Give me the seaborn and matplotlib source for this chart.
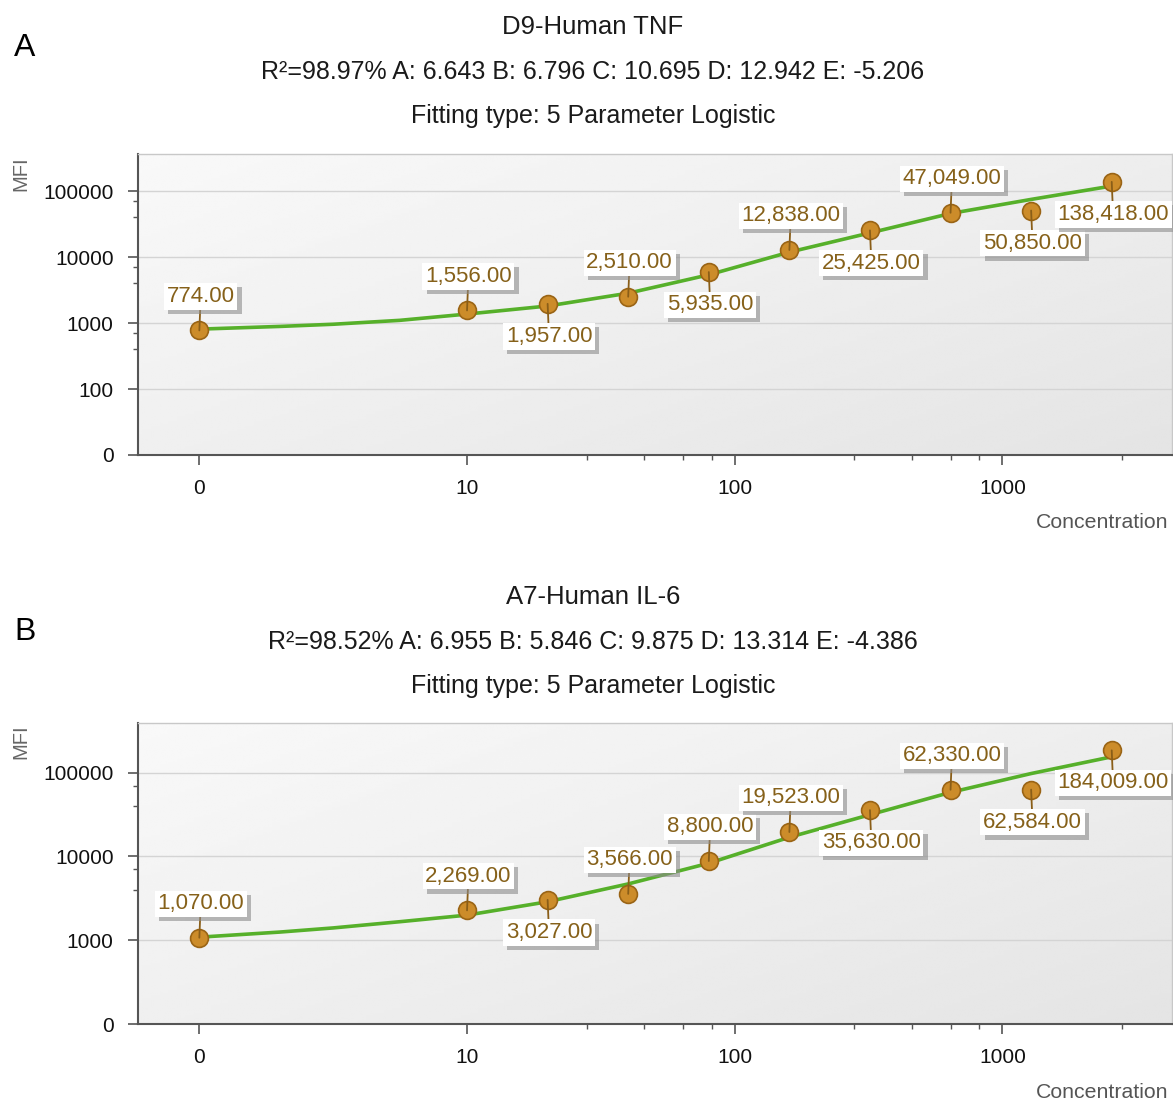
import matplotlib.pyplot as plt
import matplotlib.patheffects as pe
import matplotlib.ticker as mticker
import numpy as np
import seaborn as sns

# standards: the blank ("0") sits one decade below 10 on the log axis
conc = [1, 10, 20, 40, 80, 160, 320, 640, 1280, 2560]
x_ticks = [1, 10, 100, 1000]
x_ticklabels = ['0', '10', '100', '1000']
x_minor = [28, 46, 64, 82, 280, 460, 640, 820, 2800]

# fitted curve at these concentrations
fit_conc = [1, 2, 3.16, 5.6, 10, 20, 40, 80, 160, 320, 640, 1280, 2560]

# panel A - TNF
tnf_mfi = [774, 1556, 1957, 2510, 5935, 12838, 25425, 47049, 50850, 138418]
tnf_side = ['up', 'up', 'down', 'up', 'down', 'up', 'down', 'up', 'down', 'down']
tnf_fit_mfi = [810, 890, 960, 1100, 1370, 1815, 2840, 5395, 11900, 23300, 45900, 75000, 119700]
tnf_yticks = [10, 100, 1000, 10000, 100000]
tnf_yticklabels = ['0', '100', '1000', '10000', '100000']
tnf_yminor = [400, 700, 4000, 7000, 40000, 70000]

# panel B - IL-6
il6_mfi = [1070, 2269, 3027, 3566, 8800, 19523, 35630, 62330, 62584, 184009]
il6_side = ['up', 'up', 'down', 'up', 'up', 'up', 'down', 'up', 'down', 'down']
il6_fit_mfi = [1086, 1250, 1400, 1660, 1990, 2875, 4690, 8280, 16900, 31400, 58000, 97300, 154000]
il6_yticks = [100, 1000, 10000, 100000]
il6_yticklabels = ['0', '1000', '10000', '100000']
il6_yminor = [4000, 7000, 40000, 70000]

sns.set_style('white')
plt.rcParams['font.family'] = ['Liberation Sans', 'DejaVu Sans']

W, H = 1173, 1102
fig = plt.figure(figsize=(W / 100, H / 100), dpi=100)


def draw_panel(ax, mfi, sides, fit_y, yticks, ylabels, yminor, ylim):
    ax.set_xscale('log')
    ax.set_yscale('log')

    # soft grey gradient backdrop
    yy, xx = np.mgrid[0:1:120j, 0:1:120j]
    shade = 0.975 - 0.08 * (0.55 * xx + 0.45 * yy)
    ax.imshow(shade, cmap='gray', vmin=0, vmax=1, extent=(0, 1, 0, 1),
              transform=ax.transAxes, aspect='auto', zorder=0, interpolation='bilinear')

    sns.lineplot(x=fit_conc, y=fit_y, ax=ax, color='#56b02a', lw=2.6, zorder=2)
    sns.scatterplot(x=conc, y=mfi, ax=ax, s=165, color='#cc8c2a',
                    edgecolor='#9a6415', linewidth=1.2, zorder=3)

    for x, y, side in zip(conc, mfi, sides):
        dy = 24.5 if side == 'up' else -23.5
        ann = ax.annotate(f'{y:,.2f}', xy=(x, y), xytext=(1, dy), textcoords='offset points',
                          ha='center', va='center', fontsize=16, color='#86611a',
                          bbox=dict(boxstyle='square,pad=0.12', fc='white', ec='none'),
                          arrowprops=dict(arrowstyle='-', color='#8a5e18', lw=1.3,
                                          shrinkA=0, shrinkB=0),
                          zorder=5)
        ann.get_bbox_patch().set_path_effects(
            [pe.SimplePatchShadow(offset=(3, -3), shadow_rgbFace='#8c8c8c', alpha=0.6), pe.Normal()])

    ax.set_xticks(x_ticks, labels=x_ticklabels)
    ax.set_xticks(x_minor, minor=True)
    ax.set_yticks(yticks, labels=ylabels)
    ax.set_yticks(yminor, minor=True)
    ax.xaxis.set_minor_formatter(mticker.NullFormatter())
    ax.yaxis.set_minor_formatter(mticker.NullFormatter())
    ax.set_xlim(0.59, 4300)
    ax.set_ylim(*ylim)

    ax.yaxis.grid(True, which='major', color='#d4d4d4', lw=1)
    ax.xaxis.grid(False)
    ax.tick_params(axis='x', which='major', bottom=True, length=7.5, width=1.2,
                   color='#555555', labelsize=15, pad=10, labelcolor='#111111')
    ax.tick_params(axis='y', which='major', left=True, length=7.5, width=1.2,
                   color='#555555', labelsize=15, pad=10, labelcolor='#111111')
    ax.tick_params(which='minor', bottom=True, left=True, length=3.5, width=1, color='#555555')
    for side in ['top', 'right']:
        ax.spines[side].set_color('#c8c8c8')
        ax.spines[side].set_linewidth(1)
    for side in ['left', 'bottom']:
        ax.spines[side].set_color('#555555')
        ax.spines[side].set_linewidth(1.5)
    ax.set_xlabel('')
    ax.set_ylabel('')


axA = fig.add_axes([138 / W, 1 - 455 / H, 1034 / W, 301 / H])
axB = fig.add_axes([138 / W, 1 - 1024 / H, 1034 / W, 301 / H])

draw_panel(axA, tnf_mfi, tnf_side, tnf_fit_mfi,
           tnf_yticks, tnf_yticklabels, tnf_yminor, (10, 366000))
draw_panel(axB, il6_mfi, il6_side, il6_fit_mfi,
           il6_yticks, il6_yticklabels, il6_yminor, (100, 390000))

panels = [
    ('A', 48, 27, 'D9-Human TNF',
     'R²=98.97% A: 6.643 B: 6.796 C: 10.695 D: 12.942 E: -5.206', 174, 523),
    ('B', 632, 597, 'A7-Human IL-6',
     'R²=98.52% A: 6.955 B: 5.846 C: 9.875 D: 13.314 E: -4.386', 742, 1092),
]
for letter, ly, ty, title, stats, mfi_y, conc_y in panels:
    fig.text(14 / W, 1 - ly / H, letter, fontsize=23, color='black', ha='left', va='center')
    fig.text(593 / W, 1 - ty / H, title, fontsize=18.5, color='#1a1a1a', ha='center', va='center')
    fig.text(593 / W, 1 - (ty + 45) / H, stats, fontsize=18, color='#1a1a1a', ha='center', va='center')
    fig.text(593 / W, 1 - (ty + 89) / H, 'Fitting type: 5 Parameter Logistic', fontsize=18,
             color='#1a1a1a', ha='center', va='center')
    fig.text(21 / W, 1 - mfi_y / H, 'MFI', fontsize=14.5, color='#666666', rotation=90,
             ha='center', va='center')
    fig.text(1168 / W, 1 - conc_y / H, 'Concentration', fontsize=15.3, color='#555555',
             ha='right', va='center')

fig.savefig('out.png', dpi=100)
